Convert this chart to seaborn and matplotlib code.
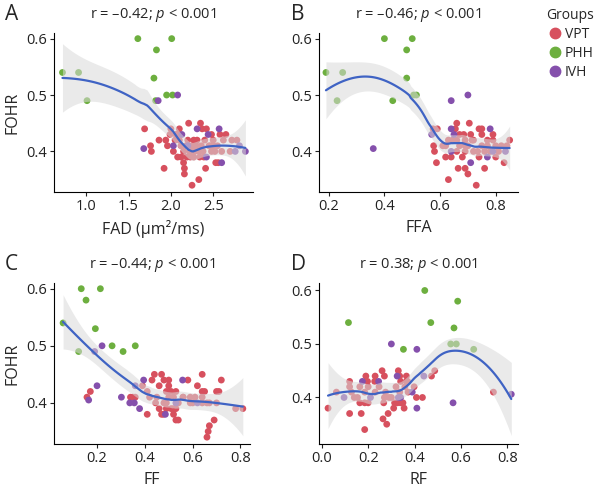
import numpy as np
import pandas as pd
import seaborn as sns
import matplotlib.pyplot as plt
from matplotlib.lines import Line2D

# FOHR vs. each measure, points as (x, FOHR)
A_VPT = [(1.69, 0.44), (1.76, 0.41), (1.77, 0.40), (1.86, 0.42), (1.92, 0.37), (1.94, 0.42), (1.96, 0.41),
         (1.99, 0.43), (2.03, 0.40), (2.08, 0.43), (2.10, 0.44), (2.08, 0.39), (2.12, 0.39), (2.15, 0.38),
         (2.16, 0.37), (2.16, 0.36), (2.15, 0.40), (2.19, 0.39), (2.21, 0.45), (2.23, 0.39), (2.25, 0.34),
         (2.27, 0.42), (2.27, 0.39), (2.29, 0.41), (2.31, 0.42), (2.33, 0.35), (2.34, 0.39), (2.35, 0.45),
         (2.37, 0.44), (2.38, 0.40), (2.39, 0.39), (2.41, 0.37), (2.42, 0.44), (2.47, 0.41), (2.48, 0.43),
         (2.50, 0.42), (2.52, 0.40), (2.53, 0.38), (2.56, 0.38), (2.58, 0.43), (2.65, 0.43),
         (2.00, 0.44), (2.05, 0.42), (2.10, 0.42), (2.12, 0.41), (2.18, 0.41), (2.20, 0.42), (2.22, 0.40),
         (2.25, 0.41), (2.28, 0.40), (2.30, 0.41), (2.33, 0.40), (2.36, 0.41), (2.40, 0.42), (2.45, 0.41),
         (2.48, 0.40), (2.50, 0.41), (2.55, 0.41), (2.60, 0.40), (2.62, 0.42), (2.70, 0.40), (2.72, 0.42),
         (2.78, 0.42), (2.06, 0.43)]
A_PHH = [(0.72, 0.54), (0.91, 0.54), (1.01, 0.49), (1.61, 0.60), (2.01, 0.60), (1.83, 0.58), (1.80, 0.53),
         (1.82, 0.49), (1.95, 0.50), (2.02, 0.50)]
A_IVH = [(1.85, 0.49), (2.08, 0.50), (1.68, 0.405), (2.03, 0.41), (2.13, 0.43), (2.31, 0.44), (2.44, 0.43),
         (2.57, 0.44), (2.42, 0.39), (2.60, 0.38), (2.81, 0.41), (2.88, 0.40), (2.76, 0.40), (2.20, 0.41)]

B_VPT = [(0.577, 0.41), (0.58, 0.40), (0.587, 0.38), (0.59, 0.44), (0.61, 0.41), (0.62, 0.39), (0.63, 0.35),
         (0.64, 0.39), (0.655, 0.44), (0.66, 0.45), (0.665, 0.37), (0.67, 0.43), (0.68, 0.39), (0.685, 0.43),
         (0.69, 0.37), (0.70, 0.36), (0.705, 0.45), (0.71, 0.43), (0.715, 0.42), (0.72, 0.40), (0.73, 0.34),
         (0.74, 0.44), (0.75, 0.44), (0.75, 0.43), (0.74, 0.39), (0.76, 0.37), (0.77, 0.42), (0.79, 0.42),
         (0.79, 0.43), (0.80, 0.39), (0.83, 0.38), (0.85, 0.42), (0.66, 0.40), (0.69, 0.40), (0.72, 0.42),
         (0.69, 0.42), (0.575, 0.44), (0.63, 0.42), (0.645, 0.42), (0.66, 0.42), (0.67, 0.41), (0.69, 0.41),
         (0.70, 0.41), (0.735, 0.40), (0.75, 0.41), (0.77, 0.41), (0.78, 0.40), (0.80, 0.41), (0.82, 0.41),
         (0.84, 0.41), (0.81, 0.40), (0.76, 0.40), (0.62, 0.41)]
B_PHH = [(0.19, 0.54), (0.25, 0.54), (0.23, 0.49), (0.40, 0.60), (0.50, 0.60), (0.48, 0.58), (0.48, 0.53),
         (0.43, 0.49), (0.505, 0.50), (0.515, 0.50)]
B_IVH = [(0.36, 0.405), (0.64, 0.49), (0.70, 0.50), (0.64, 0.44), (0.65, 0.43), (0.78, 0.44), (0.64, 0.40),
         (0.71, 0.38), (0.77, 0.39), (0.79, 0.40), (0.835, 0.40), (0.57, 0.43)]

C_VPT = [(0.158, 0.41), (0.172, 0.42), (0.34, 0.41), (0.35, 0.41), (0.36, 0.41), (0.41, 0.38), (0.43, 0.44),
         (0.44, 0.45), (0.445, 0.40), (0.46, 0.39), (0.47, 0.45), (0.48, 0.44), (0.478, 0.38), (0.49, 0.42),
         (0.50, 0.44), (0.50, 0.43), (0.52, 0.39), (0.52, 0.38), (0.53, 0.39), (0.53, 0.37), (0.54, 0.37),
         (0.53, 0.42), (0.56, 0.41), (0.58, 0.44), (0.59, 0.40), (0.62, 0.43), (0.64, 0.45), (0.64, 0.42),
         (0.65, 0.42), (0.64, 0.41), (0.66, 0.34), (0.665, 0.35), (0.67, 0.36), (0.69, 0.37), (0.70, 0.42),
         (0.71, 0.42), (0.72, 0.44), (0.81, 0.39), (0.70, 0.40), (0.49, 0.39), (0.51, 0.39), (0.47, 0.38),
         (0.46, 0.43), (0.51, 0.42), (0.39, 0.43), (0.41, 0.42), (0.42, 0.41), (0.45, 0.41), (0.48, 0.40),
         (0.49, 0.40), (0.50, 0.41), (0.52, 0.41), (0.54, 0.40), (0.56, 0.41), (0.59, 0.41), (0.61, 0.41),
         (0.64, 0.40), (0.66, 0.40), (0.67, 0.40), (0.78, 0.39), (0.60, 0.40)]
C_PHH = [(0.058, 0.54), (0.123, 0.49), (0.134, 0.60), (0.214, 0.60), (0.154, 0.58), (0.193, 0.53),
         (0.263, 0.50), (0.309, 0.49), (0.36, 0.50)]
C_IVH = [(0.221, 0.50), (0.19, 0.49), (0.20, 0.43), (0.165, 0.405), (0.302, 0.41), (0.337, 0.40),
         (0.356, 0.40), (0.378, 0.39), (0.395, 0.44), (0.486, 0.38), (0.558, 0.44), (0.36, 0.43),
         (0.53, 0.40), (0.62, 0.40)]

D_VPT = [(0.027, 0.38), (0.12, 0.43), (0.12, 0.37), (0.17, 0.37), (0.164, 0.39), (0.185, 0.39), (0.20, 0.39),
         (0.19, 0.44), (0.197, 0.43), (0.185, 0.34), (0.23, 0.44), (0.228, 0.43), (0.26, 0.45), (0.27, 0.44),
         (0.267, 0.39), (0.264, 0.36), (0.28, 0.35), (0.286, 0.37), (0.31, 0.38), (0.314, 0.39), (0.33, 0.45),
         (0.336, 0.44), (0.34, 0.43), (0.34, 0.39), (0.355, 0.38), (0.365, 0.44), (0.37, 0.43), (0.398, 0.42),
         (0.408, 0.40), (0.434, 0.40), (0.473, 0.44), (0.487, 0.45), (0.326, 0.39), (0.35, 0.39),
         (0.063, 0.41), (0.12, 0.42), (0.128, 0.41), (0.154, 0.40), (0.164, 0.42), (0.185, 0.41), (0.20, 0.42),
         (0.23, 0.41), (0.247, 0.42), (0.275, 0.41), (0.27, 0.40), (0.29, 0.40), (0.30, 0.40), (0.32, 0.42),
         (0.336, 0.41), (0.358, 0.42), (0.365, 0.43), (0.372, 0.41), (0.74, 0.41), (0.14, 0.40)]
D_PHH = [(0.444, 0.60), (0.586, 0.58), (0.115, 0.54), (0.47, 0.54), (0.57, 0.53), (0.352, 0.49),
         (0.556, 0.50), (0.58, 0.50), (0.655, 0.49)]
D_IVH = [(0.30, 0.50), (0.41, 0.49), (0.175, 0.43), (0.245, 0.43), (0.325, 0.44), (0.34, 0.40), (0.39, 0.41),
         (0.41, 0.38), (0.44, 0.44), (0.566, 0.39), (0.817, 0.406), (0.096, 0.40), (0.21, 0.40), (0.33, 0.40)]

GROUPS = ["VPT", "PHH", "IVH"]
COLORS = ["#D7505E", "#6DAF3F", "#8550AC"]
TITLES = ["r = \u20130.42; $\\mathit{p}$ < 0.001", "r = \u20130.46; $\\mathit{p}$ < 0.001",
          "r = \u20130.44; $\\mathit{p}$ < 0.001", "r = 0.38; $\\mathit{p}$ < 0.001"]
XLABELS = ["FAD (\u03bcm\u00b2/ms)", "FFA", "FF", "RF"]


def loess(x, y, grid, span=0.75):
    # local quadratic fit with tricube weights (like R's loess defaults)
    n = len(x)
    q = int(np.floor(n * span))

    def row(x0):
        d = np.abs(x - x0)
        h = np.sort(d)[q - 1] * 1.0001
        w = (1 - np.clip(d / h, 0, 1) ** 3) ** 3
        X = np.column_stack([np.ones(n), x - x0, (x - x0) ** 2])
        XtW = X.T * w
        return np.linalg.solve(XtW @ X, XtW)[0]

    L = np.array([row(v) for v in x])
    res = y - L @ y
    M = (np.eye(n) - L).T @ (np.eye(n) - L)
    sigma = np.sqrt(res @ res / np.trace(M))
    G = np.array([row(v) for v in grid])
    return G @ y, sigma * np.sqrt((G ** 2).sum(1))


def make_df(vpt, phh, ivh):
    rows = []
    for g, pts in zip(GROUPS, [vpt, phh, ivh]):
        rows += [(px, py, g) for px, py in pts]
    return pd.DataFrame(rows, columns=["x", "FOHR", "Groups"])


sns.set_style("ticks")
plt.rcParams["font.family"] = ["Open Sans", "DejaVu Sans"]
plt.rcParams["mathtext.fontset"] = "custom"
plt.rcParams["mathtext.it"] = "Open Sans:italic"
plt.rcParams["mathtext.rm"] = "Open Sans"

fig = plt.figure(figsize=(6, 4.86), dpi=100)
W, H = 600, 486
boxes = [(54, 253, 33, 192), (319, 518, 33, 192), (54, 250, 283, 444), (319, 518, 283, 444)]
data = [make_df(A_VPT, A_PHH, A_IVH), make_df(B_VPT, B_PHH, B_IVH),
        make_df(C_VPT, C_PHH, C_IVH), make_df(D_VPT, D_PHH, D_IVH)]
xlims = [(0.62, 2.97), (0.165, 0.88), (0.02, 0.84), (-0.012, 0.846)]
ylims = [(0.328, 0.61), (0.328, 0.61), (0.328, 0.61), (0.313, 0.614)]
xticks = [[1.0, 1.5, 2.0, 2.5], [0.2, 0.4, 0.6, 0.8], [0.2, 0.4, 0.6, 0.8], [0.0, 0.2, 0.4, 0.6, 0.8]]
letters = ["A", "B", "C", "D"]

for i, df in enumerate(data):
    l, r, t, b = boxes[i]
    ax = fig.add_axes([l / W, 1 - b / H, (r - l) / W, (b - t) / H])
    sns.scatterplot(data=df, x="x", y="FOHR", hue="Groups", hue_order=GROUPS, palette=COLORS,
                    s=24, linewidth=0, legend=False, ax=ax, zorder=2)
    xs = df["x"].to_numpy(float)
    ys = df["FOHR"].to_numpy(float)
    grid = np.linspace(xs.min(), xs.max(), 120)
    fit, se = loess(xs, ys, grid)
    ax.fill_between(grid, fit - 1.98 * se, fit + 1.98 * se, color="#d9d9d9", alpha=0.55,
                    linewidth=0, zorder=3)
    ax.plot(grid, fit, color="#3F63C4", lw=1.6, zorder=4)

    ax.set_xlim(*xlims[i])
    ax.set_ylim(*ylims[i])
    ax.set_xticks(xticks[i])
    ax.set_xticklabels([f"{v:.1f}" for v in xticks[i]])
    ax.set_yticks([0.4, 0.5, 0.6])
    ax.set_yticklabels(["0.4", "0.5", "0.6"])
    ax.tick_params(labelsize=10.5, length=3, width=0.8, pad=2, colors="#222222")
    sns.despine(ax=ax)
    for s in ["left", "bottom"]:
        ax.spines[s].set_linewidth(0.8)
        ax.spines[s].set_color("black")
    ax.set_xlabel(XLABELS[i], fontsize=11.5, labelpad=4)
    ax.set_ylabel("FOHR" if i % 2 == 0 else "", fontsize=11.5, labelpad=4)
    ax.text(0.5, 1 + 18 / (b - t), TITLES[i], transform=ax.transAxes, ha="center", va="center",
            fontsize=10.5)
    fig.text((5 if i % 2 == 0 else 291) / W, 1 - (t - 19) / H, letters[i], fontsize=15,
             ha="left", va="center")

handles = [Line2D([], [], marker="o", ls="", color=c, markersize=7.5) for c in COLORS]
leg = fig.legend(handles, GROUPS, title="Groups", loc="upper left", bbox_to_anchor=(541 / W, 1 - 2 / H),
                 frameon=False, fontsize=10, title_fontsize=10, handletextpad=0.1,
                 labelspacing=0.3, handlelength=1.2, borderaxespad=0, alignment="left")

fig.savefig("out.png", dpi=100)
